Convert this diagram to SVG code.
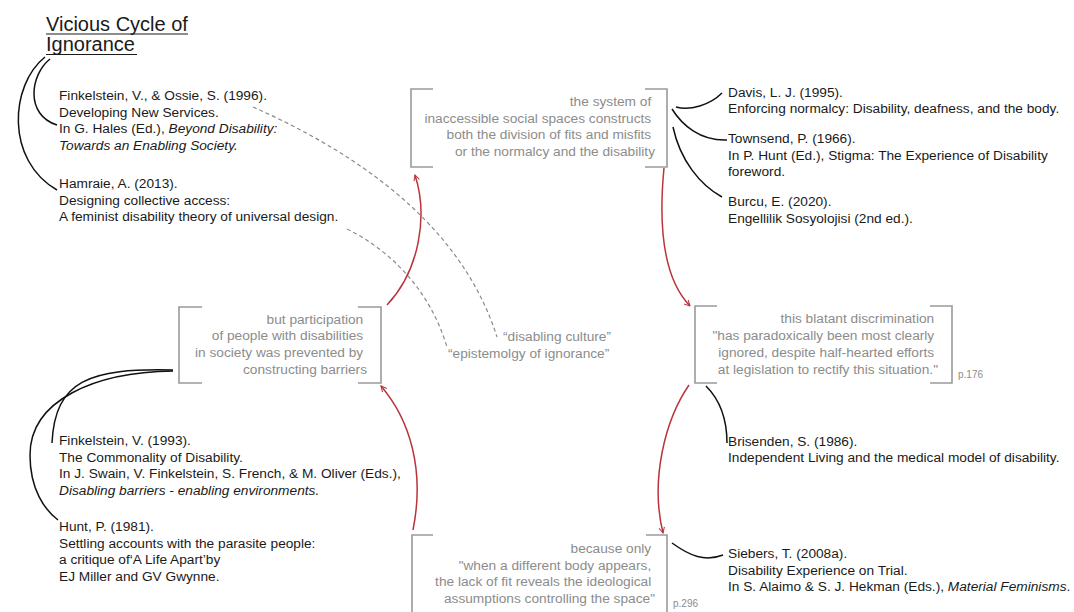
<svg xmlns="http://www.w3.org/2000/svg" width="1074" height="612" viewBox="0 0 1074 612">
  <style>
    text { font-family: "Liberation Sans", Arial, sans-serif; }
    .ref { font-size: 13.7px; fill: #1a1a1a; }
    .quote { font-size: 13.7px; fill: #8c8c8c; text-anchor: end; }
    .label { font-size: 13.7px; fill: #8c8c8c; }
    .page { font-size: 10px; fill: #8c8c8c; }
    .title { font-size: 20px; fill: #1a1a1a; }
    .it { font-style: italic; }
    .bracket { fill: none; stroke: #9a9a9a; stroke-width: 1.6; }
    .link { fill: none; stroke: #111; stroke-width: 1.5; }
    .cite { fill: none; stroke: #8a8a8a; stroke-width: 1.2; stroke-dasharray: 4 3; }
    .flow { fill: none; stroke: #b8353b; stroke-width: 1.5; marker-end: url(#head); }
  </style>
  <defs>
    <marker id="head" viewBox="0 0 10 10" refX="9" refY="5" markerWidth="7" markerHeight="7" orient="auto" markerUnits="userSpaceOnUse">
      <path d="M1,1 L9,5 L1,9" fill="none" stroke="#b8353b" stroke-width="1.5"/>
    </marker>
  </defs>

  <rect width="1074" height="612" fill="#ffffff"/>

  <!-- connectors -->
  <g id="connectors">
    <!-- title to its references -->
    <path class="link" d="M50,59 C30,75 25,115 57,125"/>
    <path class="link" d="M45,57 C10,85 5,160 57,190"/>
    <!-- top statement to its references -->
    <path class="link" d="M676,107 C690,111 710,105 722,93"/>
    <path class="link" d="M672,109 C682,125 700,141 727,140"/>
    <path class="link" d="M673,127 C680,160 700,185 722,197"/>
    <!-- left statement to its references -->
    <path class="link" d="M173,370 C90,368 55,380 52,443"/>
    <path class="link" d="M173,371 C95,372 30,400 30,455 C30,490 45,510 58,520"/>
    <!-- right statement to its reference -->
    <path class="link" d="M706,386 C720,400 727,420 727,443"/>
    <!-- bottom statement to its reference -->
    <path class="link" d="M672,543 C690,556 705,562 723,555"/>
    <!-- dashed citations to the quoted terms -->
    <path class="cite" d="M253,107 C350,150 460,220 497,337"/>
    <path class="cite" d="M347,229 C390,250 430,290 447,347"/>
    <!-- the cycle -->
    <path class="flow" d="M664,168 C658,230 665,280 690,306"/>
    <path class="flow" d="M689,385 C665,420 650,480 663,533"/>
    <path class="flow" d="M413,530 C425,470 410,420 381,386"/>
    <path class="flow" d="M387,305 C420,270 428,215 415,175"/>
  </g>

  <g id="title">
    <text class="title" x="46" y="30.5">Vicious Cycle of</text>
    <text class="title" x="46" y="51">Ignorance</text>
    <line x1="46" y1="34" x2="188" y2="34" stroke="#1a1a1a" stroke-width="1"/>
    <line x1="46" y1="54.5" x2="137" y2="54.5" stroke="#1a1a1a" stroke-width="1"/>
  </g>

  <g id="ref-finkelstein-1996">
    <text class="ref" x="59" y="100">Finkelstein, V., &amp; Ossie, S. (1996).
      <tspan x="59" dy="16.6">Developing New Services.</tspan>
      <tspan x="59" dy="16.6">In G. Hales (Ed.), <tspan class="it">Beyond Disability:</tspan></tspan>
      <tspan x="59" dy="16.6" class="it">Towards an Enabling Society.</tspan>
    </text>
  </g>

  <g id="ref-hamraie-2013">
    <text class="ref" x="59" y="188">Hamraie, A. (2013).
      <tspan x="59" dy="16.6">Designing collective access:</tspan>
      <tspan x="59" dy="16.6">A feminist disability theory of universal design.</tspan>
    </text>
  </g>

  <g id="statement-system">
    <path class="bracket" d="M433,89 H411 V167 H433 M645,89 H667 V167 H645"/>
    <text class="quote" x="655" y="106">the system of
      <tspan x="655" dy="16.7">inaccessible social spaces constructs</tspan>
      <tspan x="655" dy="16.7">both the division of fits and misfits</tspan>
      <tspan x="655" dy="16.7">or the normalcy and the disability</tspan>
    </text>
  </g>

  <g id="ref-davis-1995">
    <text class="ref" x="728" y="96.5">Davis, L. J. (1995).
      <tspan x="728" dy="16.5">Enforcing normalcy: Disability, deafness, and the body.</tspan>
    </text>
  </g>

  <g id="ref-townsend-1966">
    <text class="ref" x="728" y="143">Townsend, P. (1966).
      <tspan x="728" dy="16.5">In P. Hunt (Ed.), Stigma: The Experience of Disability</tspan>
      <tspan x="728" dy="16.5">foreword.</tspan>
    </text>
  </g>

  <g id="ref-burcu-2020">
    <text class="ref" x="728" y="206">Burcu, E. (2020).
      <tspan x="728" dy="16.5">Engellilik Sosyolojisi (2nd ed.).</tspan>
    </text>
  </g>

  <g id="statement-participation">
    <path class="bracket" d="M202,307 H179 V383 H202 M358,307 H381 V383 H358"/>
    <text class="quote" x="367" y="323.5">but participation
      <tspan x="367" dy="16.8">of people with disabilities</tspan>
      <tspan x="367" dy="16.8">in society was prevented by</tspan>
      <tspan x="367" dy="16.8">constructing barriers</tspan>
    </text>
  </g>

  <g id="term-disabling-culture">
    <text class="label" x="503" y="341">“disabling culture”</text>
  </g>

  <g id="term-epistemology">
    <text class="label" x="448" y="357.5">“epistemolgy of ignorance”</text>
  </g>

  <g id="statement-discrimination">
    <path class="bracket" d="M717,306 H695 V383 H717 M930,306 H952 V383 H930"/>
    <text class="quote" x="938" y="323">this blatant discrimination
      <tspan x="938" dy="16.9">"has paradoxically been most clearly</tspan>
      <tspan x="938" dy="16.9">ignored, despite half-hearted efforts</tspan>
      <tspan x="938" dy="16.9">at legislation to rectify this situation."</tspan>
    </text>
    <text class="page" x="958" y="378">p.176</text>
  </g>

  <g id="ref-brisenden-1986">
    <text class="ref" x="728" y="445.5">Brisenden, S. (1986).
      <tspan x="728" dy="16.5">Independent Living and the medical model of disability.</tspan>
    </text>
  </g>

  <g id="ref-finkelstein-1993">
    <text class="ref" x="59" y="445">Finkelstein, V. (1993).
      <tspan x="59" dy="16.6">The Commonality of Disability.</tspan>
      <tspan x="59" dy="16.6">In J. Swain, V. Finkelstein, S. French, &amp; M. Oliver (Eds.),</tspan>
      <tspan x="59" dy="16.6" class="it">Disabling barriers - enabling environments.</tspan>
    </text>
  </g>

  <g id="ref-hunt-1981">
    <text class="ref" x="59" y="531">Hunt, P. (1981).
      <tspan x="59" dy="16.6">Settling accounts with the parasite people:</tspan>
      <tspan x="59" dy="16.6">a critique of‘A Life Apart’by</tspan>
      <tspan x="59" dy="16.6">EJ Miller and GV Gwynne.</tspan>
    </text>
  </g>

  <g id="statement-different-body">
    <path class="bracket" d="M433,535 H412 V612 M646,535 H667 V612"/>
    <text class="quote" x="655" y="553">because only
      <tspan x="655" dy="16.7">"when a different body appears,</tspan>
      <tspan x="655" dy="16.7">the lack of fit reveals the ideological</tspan>
      <tspan x="655" dy="16.7">assumptions controlling the space"</tspan>
    </text>
    <text class="page" x="673" y="607">p.296</text>
  </g>

  <g id="ref-siebers-2008">
    <text class="ref" x="728" y="558">Siebers, T. (2008a).
      <tspan x="728" dy="16.5">Disability Experience on Trial.</tspan>
      <tspan x="728" dy="16.5">In S. Alaimo &amp; S. J. Hekman (Eds.), <tspan class="it">Material Feminisms</tspan>.</tspan>
    </text>
  </g>
</svg>
